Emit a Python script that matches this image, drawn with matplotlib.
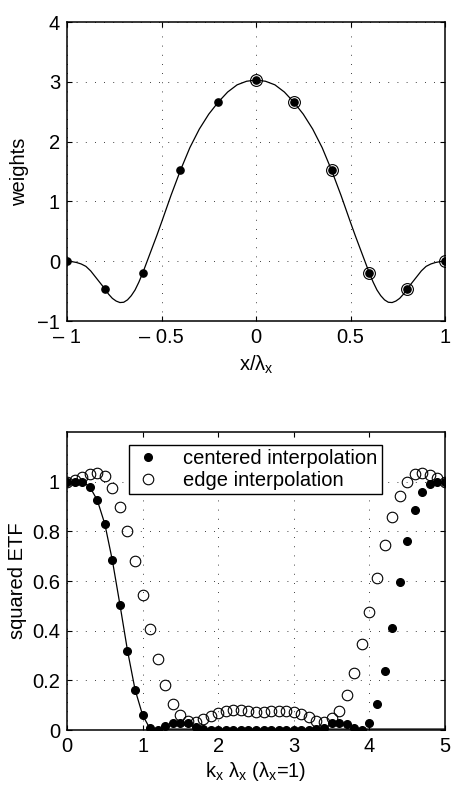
import numpy as np
import matplotlib
matplotlib.use("Agg")
import matplotlib.pyplot as plt

plt.rcParams["font.family"] = ["Liberation Sans", "DejaVu Sans"]
plt.rcParams["mathtext.fontset"] = "custom"
plt.rcParams["mathtext.rm"] = "Liberation Sans"
plt.rcParams["mathtext.it"] = "Liberation Sans"
plt.rcParams["font.size"] = 14.5

# ---------- top panel: interpolation weights ----------
w_x = [-1.0, -0.8, -0.6, -0.4, -0.2, 0.0, 0.2, 0.4, 0.6, 0.8, 1.0]
w_val = [0.0, -0.46, -0.20, 1.52, 2.66, 3.03, 2.66, 1.52, -0.20, -0.46, 0.0]
edge_x = [0.0, 0.2, 0.4, 0.6, 0.8, 1.0]
edge_val = [3.03, 2.66, 1.52, -0.20, -0.46, 0.0]

curve_x = [-1.0, -0.975, -0.95, -0.925, -0.9, -0.875, -0.85, -0.825, -0.8, -0.78, -0.76,
           -0.74, -0.72, -0.70, -0.68, -0.66, -0.64, -0.62, -0.60, -0.575, -0.55,
           -0.525, -0.50, -0.45, -0.40, -0.35, -0.30, -0.25, -0.20, -0.15, -0.10,
           -0.05, 0.0,
           0.05, 0.10, 0.15, 0.20, 0.25, 0.30, 0.35, 0.40, 0.45, 0.50, 0.525, 0.55,
           0.575, 0.60, 0.62, 0.64, 0.66, 0.68, 0.70, 0.72, 0.74, 0.76, 0.78, 0.80,
           0.825, 0.85, 0.875, 0.9, 0.925, 0.95, 0.975, 1.0]
curve_y = [0.0, -0.005, -0.02, -0.045, -0.085, -0.16, -0.26, -0.36, -0.46, -0.55, -0.62,
           -0.665, -0.69, -0.685, -0.645, -0.575, -0.48, -0.35, -0.20, 0.01, 0.22,
           0.43, 0.65, 1.10, 1.52, 1.90, 2.21, 2.46, 2.66, 2.83, 2.95,
           3.01, 3.03,
           3.01, 2.95, 2.83, 2.66, 2.46, 2.21, 1.90, 1.52, 1.10, 0.65, 0.43, 0.22,
           0.01, -0.20, -0.35, -0.48, -0.575, -0.645, -0.685, -0.69, -0.665, -0.62, -0.55, -0.46,
           -0.36, -0.26, -0.16, -0.085, -0.045, -0.02, -0.005, 0.0]

# ---------- bottom panel: squared ETF ----------
k = [round(0.1 * i, 1) for i in range(51)]
centered = [1.0, 1.0, 1.0, 0.98, 0.926, 0.83, 0.683, 0.505, 0.32, 0.163,
            0.06, 0.01, 0.0, 0.017, 0.029, 0.03, 0.027, 0.013, 0.004, 0.001,
            0.001, 0.001, 0.001, 0.001, 0.001, 0.001, 0.001, 0.001, 0.001, 0.001,
            0.001, 0.001, 0.001, 0.004, 0.01, 0.027, 0.03, 0.024, 0.01, 0.0,
            0.027, 0.104, 0.237, 0.41, 0.596, 0.762, 0.885, 0.96, 0.99, 1.0, 1.0]
edge = [1.0, 1.005, 1.019, 1.03, 1.036, 1.023, 0.973, 0.90, 0.80, 0.68,
        0.544, 0.408, 0.285, 0.18, 0.104, 0.059, 0.037, 0.033, 0.043, 0.057,
        0.07, 0.078, 0.08, 0.079, 0.076, 0.074, 0.074, 0.075, 0.078, 0.078,
        0.074, 0.064, 0.051, 0.037, 0.033, 0.047, 0.078, 0.14, 0.23, 0.345,
        0.477, 0.614, 0.745, 0.857, 0.943, 1.0, 1.03, 1.036, 1.027, 1.013, 1.0]
line_k = [0.0, 0.1, 0.2, 0.3, 0.4, 0.5, 0.6, 0.7, 0.8, 0.9, 1.0, 1.1, 5.0]
line_v = [1.0, 1.0, 1.0, 0.98, 0.926, 0.83, 0.683, 0.505, 0.32, 0.163, 0.06, 0.004, 0.004]


def style_axes(ax):
    ax.grid(True, color="black", linestyle=(0, (1, 10)), linewidth=0.6)
    ax.tick_params(direction="in", top=True, right=True, length=3.5, width=0.8, pad=5)
    for s in ax.spines.values():
        s.set_linewidth(1.1)


fig = plt.figure(figsize=(4.54, 7.87), dpi=100)
ax1 = fig.add_axes([0.1476, 0.592, 0.8326, 0.380])
ax2 = fig.add_axes([0.1476, 0.0724, 0.8326, 0.3786])

ax1.plot(curve_x, curve_y, color="black", linewidth=0.9)
ax1.plot(w_x, w_val, "o", color="black", markersize=5.2, linestyle="none")
ax1.plot(edge_x, edge_val, "o", markerfacecolor="none", markeredgecolor="black",
         markersize=8.5, markeredgewidth=0.8, linestyle="none")
ax1.set_xlim(-1, 1)
ax1.set_ylim(-1, 4)
ax1.set_xticks([-1, -0.5, 0, 0.5, 1])
ax1.set_xticklabels(["\u2013 1", "\u2013 0.5", "0", "0.5", "1"])
ax1.set_yticks([-1, 0, 1, 2, 3, 4])
ax1.set_yticklabels(["\u22121", "0", "1", "2", "3", "4"])
ax1.set_xlabel(r"x/$\lambda_{\rm x}$", labelpad=5)
ax1.set_ylabel("weights", labelpad=6)
style_axes(ax1)

ax2.plot(line_k, line_v, color="black", linewidth=0.9)
ax2.plot(k, centered, "o", color="black", markersize=5.5, linestyle="none",
         label="centered interpolation")
ax2.plot(k, edge, "o", markerfacecolor="none", markeredgecolor="black",
         markersize=7.6, markeredgewidth=0.8, linestyle="none",
         label="edge interpolation")
ax2.set_xlim(0, 5)
ax2.set_ylim(0, 1.2)
ax2.set_xticks([0, 1, 2, 3, 4, 5])
ax2.set_yticks([0, 0.2, 0.4, 0.6, 0.8, 1.0])
ax2.set_yticklabels(["0", "0.2", "0.4", "0.6", "0.8", "1"])
ax2.set_xlabel(r"k$_{\rm x}$ $\lambda_{\rm x}$ ($\lambda_{\rm x}$=1)", labelpad=3)
ax2.set_ylabel("squared ETF", labelpad=4)
style_axes(ax2)

handles, labels = ax2.get_legend_handles_labels()
leg = ax2.legend(handles[:2], labels[:2], loc="upper left",
                 bbox_to_anchor=(0.164, 0.958), fancybox=False, framealpha=1,
                 edgecolor="black", borderpad=0.2, handlelength=1.5,
                 handletextpad=1.0, labelspacing=0.15, borderaxespad=0)
leg.get_frame().set_linewidth(1.0)

fig.savefig("out.png", dpi=100)
